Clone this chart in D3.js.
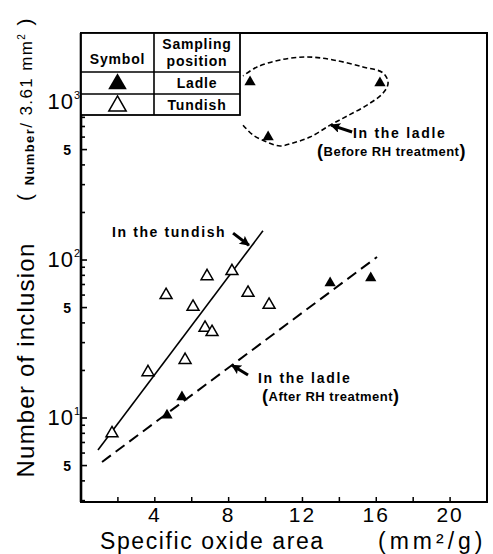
<!DOCTYPE html>
<html>
<head>
<meta charset="utf-8">
<script src="https://cdn.jsdelivr.net/npm/d3@7"></script>
<style>
  body { margin: 0; background: #fff; }
  svg { display: block; }
  text { font-family: "Liberation Sans", Arial, sans-serif; fill: #000; }
  .bold { font-weight: bold; }
</style>
</head>
<body>
<div class="svg_container"></div>
<script>
// chart values
var xTickValues = [2, 4, 6, 8, 10, 12, 14, 16, 18, 20];
var xTickLabels = [4, 8, 12, 16, 20];
var yPowerLabels = [{value: 1000, exp: "3"}, {value: 100, exp: "2"}, {value: 10, exp: "1"}];
var yFiveLabels = [500, 50, 5];

// tundish (open triangles)
var tundishX = [1.68, 3.63, 4.61, 5.64, 6.07, 6.72, 7.10, 6.83, 8.18, 9.05, 10.19];
var tundishY = [8.0, 19.5, 60, 23.3, 50.5, 37.2, 35, 79, 85, 62, 52];

// ladle after RH treatment (filled triangles)
var ladleAfterX = [4.66, 5.47, 13.5, 15.7];
var ladleAfterY = [10.4, 13.6, 71.5, 77];

// ladle before RH treatment (filled triangles)
var ladleBeforeX = [9.16, 16.2, 10.14];
var ladleBeforeY = [1340, 1320, 600];

// fitted lines
var tundishFitX = [0.92, 9.86];
var tundishFitY = [6.27, 153];
var ladleFitX = [1.14, 16.04];
var ladleFitY = [5.27, 104.5];

// dashed loop around the "before RH" points
var loopX = [8.78, 9.32, 10.08, 10.79, 11.49, 12.41, 13.5, 14.42, 15.5, 16.37, 16.64, 16.37, 15.28, 13.66, 12.25, 10.79, 9.54, 8.78];
var loopY = [714, 618, 558, 527, 551, 600, 714, 815, 957, 1140, 1319, 1527, 1667, 1847, 1928, 1847, 1667, 1462];

// set the dimensions and margins of the graph
var margin = {top: 33, right: 6, bottom: 52, left: 81};
var width = 493 - margin.left - margin.right;
var height = 554 - margin.top - margin.bottom;

var svgRoot = d3.select(".svg_container").append("svg")
    .attr("width", 493)
    .attr("height", 554);

// arrow head marker
svgRoot.append("defs").append("marker")
    .attr("id", "head")
    .attr("markerUnits", "userSpaceOnUse")
    .attr("viewBox", "0 0 10 10")
    .attr("refX", 9)
    .attr("refY", 5)
    .attr("markerWidth", 11)
    .attr("markerHeight", 10)
    .attr("orient", "auto")
  .append("path")
    .attr("d", "M0,0 L10,5 L0,10 L2,5 Z")
    .attr("fill", "#000");

var svg = svgRoot.append("g")
    .attr("transform", "translate(" + margin.left + "," + margin.top + ")");

// scales
var xScale = d3.scaleLinear()
  .domain([0, 22])
  .range([0, width]);

var yScale = d3.scaleLog()
  .domain([2.94, 2735])
  .range([height, 0]);

// frame
svg.append("rect")
  .attr("x", 0).attr("y", 0)
  .attr("width", width).attr("height", height)
  .attr("fill", "none")
  .attr("stroke", "#000")
  .attr("stroke-width", 2);

svg.append("line")
  .attr("x1", 0).attr("x2", 0)
  .attr("y1", 0).attr("y2", height)
  .attr("stroke", "#000")
  .attr("stroke-width", 2.6);

// x ticks (pointing inward)
svg.selectAll(".xtick")
  .data(xTickValues)
  .enter().append("line")
    .attr("x1", function(d) { return xScale(d); })
    .attr("x2", function(d) { return xScale(d); })
    .attr("y1", height)
    .attr("y2", height - 5)
    .attr("stroke", "#000")
    .attr("stroke-width", 1.5);

svg.selectAll(".xlabel")
  .data(xTickLabels)
  .enter().append("text")
    .attr("x", function(d) { return xScale(d); })
    .attr("y", height + 20)
    .attr("text-anchor", "middle")
    .attr("font-size", 21)
    .attr("letter-spacing", 2)
    .text(function(d) { return d; });

// y ticks from the log scale
var yTickValues = yScale.ticks().filter(function(d) { return d >= 3; });

svg.selectAll(".ytick")
  .data(yTickValues)
  .enter().append("line")
    .attr("x1", 0)
    .attr("x2", function(d) {
      var m = d / Math.pow(10, Math.floor(Math.log10(d) + 1e-9));
      return (Math.round(m) == 1 || Math.round(m) == 5) ? 6 : 4;
    })
    .attr("y1", function(d) { return yScale(d); })
    .attr("y2", function(d) { return yScale(d); })
    .attr("stroke", "#000")
    .attr("stroke-width", 1.6);

var powerLabels = svg.selectAll(".ypow")
  .data(yPowerLabels)
  .enter().append("text")
    .attr("x", -1)
    .attr("y", function(d) { return yScale(d.value) + 7; })
    .attr("text-anchor", "end")
    .attr("font-size", 22);

powerLabels.append("tspan")
  .attr("letter-spacing", 1)
  .text("10");
powerLabels.append("tspan")
  .attr("font-size", 11)
  .attr("dy", -10)
  .text(function(d) { return d.exp; });

svg.selectAll(".yfive")
  .data(yFiveLabels)
  .enter().append("text")
    .attr("class", "bold")
    .attr("x", -10)
    .attr("y", function(d) { return yScale(d) + 5; })
    .attr("text-anchor", "end")
    .attr("font-size", 14)
    .text("5");

// axis titles
svgRoot.append("text")
  .attr("transform", "translate(34,360) rotate(-90)")
  .attr("text-anchor", "middle")
  .attr("font-size", 24)
  .attr("letter-spacing", 1.2)
  .text("Number of inclusion");

var unitLabel = svgRoot.append("text")
  .attr("transform", "translate(32,109) rotate(-90)")
  .attr("text-anchor", "middle")
  .attr("font-size", 17)
  .attr("letter-spacing", 1.4);
unitLabel.append("tspan").attr("font-size", 21).text("( ");
unitLabel.append("tspan").attr("class", "bold").attr("font-size", 13).attr("dy", 2).text("Number");
unitLabel.append("tspan").attr("dy", -2).text("/ 3.61 mm");
unitLabel.append("tspan").attr("font-size", 10).attr("dy", -7).text("2");
unitLabel.append("tspan").attr("font-size", 21).attr("dy", 7).text(" )");

svgRoot.append("text")
  .attr("x", 100)
  .attr("y", 549)
  .attr("font-size", 23)
  .attr("letter-spacing", 1.6)
  .text("Specific oxide area");

svgRoot.append("text")
  .attr("x", 378)
  .attr("y", 549)
  .attr("font-size", 23)
  .attr("letter-spacing", 4)
  .text("(mm²/g)");

// fitted lines
var line = d3.line()
  .x(function(d) { return xScale(d[0]); })
  .y(function(d) { return yScale(d[1]); });

svg.append("path")
  .datum(d3.zip(tundishFitX, tundishFitY))
  .attr("d", line)
  .attr("fill", "none")
  .attr("stroke", "#000")
  .attr("stroke-width", 1.6);

svg.append("path")
  .datum(d3.zip(ladleFitX, ladleFitY))
  .attr("d", line)
  .attr("fill", "none")
  .attr("stroke", "#000")
  .attr("stroke-width", 2)
  .attr("stroke-dasharray", "11,6");

// loop around the before-RH points
svg.append("path")
  .datum(d3.zip(loopX, loopY))
  .attr("d", line.curve(d3.curveCatmullRom))
  .attr("fill", "none")
  .attr("stroke", "#000")
  .attr("stroke-width", 1.6)
  .attr("stroke-dasharray", "5,3");

// points
var triOpen = d3.symbol().type(d3.symbolTriangle).size(62);
var triFill = d3.symbol().type(d3.symbolTriangle).size(55);

svg.selectAll(".tundish")
  .data(d3.zip(tundishX, tundishY))
  .enter().append("path")
    .attr("d", triOpen)
    .attr("transform", function(d) { return "translate(" + xScale(d[0]) + "," + yScale(d[1]) + ")"; })
    .attr("fill", "#fff")
    .attr("stroke", "#000")
    .attr("stroke-width", 1.5);

svg.selectAll(".ladle")
  .data(d3.zip(ladleAfterX.concat(ladleBeforeX), ladleAfterY.concat(ladleBeforeY)))
  .enter().append("path")
    .attr("d", triFill)
    .attr("transform", function(d) { return "translate(" + xScale(d[0]) + "," + yScale(d[1]) + ")"; })
    .attr("fill", "#000");

// annotations (positions in data units)
function arrow(x1, y1, x2, y2) {
  svg.append("line")
    .attr("x1", xScale(x1)).attr("y1", yScale(y1))
    .attr("x2", xScale(x2)).attr("y2", yScale(y2))
    .attr("stroke", "#000")
    .attr("stroke-width", 3)
    .attr("marker-end", "url(#head)");
}

function note(x, y, txt, size, spacing) {
  svg.append("text")
    .attr("class", "bold")
    .attr("x", xScale(x))
    .attr("y", yScale(y))
    .attr("dy", "0.35em")
    .attr("font-size", size)
    .attr("letter-spacing", spacing)
    .text(txt);
}

function noteParen(x, y, txt) {
  var t = svg.append("text")
    .attr("class", "bold")
    .attr("x", xScale(x))
    .attr("y", yScale(y))
    .attr("dy", "0.38em")
    .attr("font-size", 13)
    .attr("letter-spacing", 0.5);
  t.append("tspan").attr("font-size", 18).text("(");
  t.append("tspan").attr("dy", "-0.1em").text(txt);
  t.append("tspan").attr("font-size", 18).attr("dy", "0.1em").text(")");
}

note(1.68, 150, "In the tundish", 14, 1.6);
arrow(8.24, 148, 9.1, 124);

note(14.74, 637, "In the ladle", 14, 1.7);
noteParen(12.79, 483, "Before RH treatment");
arrow(14.69, 646, 13.55, 715);

note(9.59, 17.9, "In the ladle", 14, 1.7);
noteParen(9.81, 13.6, "After RH treatment");
arrow(9.05, 18.7, 8.18, 21.6);

// legend table in the top-left corner
var table = svg.append("g");
var colX = [0, 73, 159];
var rowY = [0, 39, 61, 82];

table.append("rect")
  .attr("x", 0).attr("y", 0)
  .attr("width", colX[2]).attr("height", rowY[3])
  .attr("fill", "#fff")
  .attr("stroke", "#000")
  .attr("stroke-width", 1.8);

table.append("line")
  .attr("x1", colX[1]).attr("x2", colX[1])
  .attr("y1", 0).attr("y2", rowY[3])
  .attr("stroke", "#000").attr("stroke-width", 1.6);

[rowY[1], rowY[2]].forEach(function(y) {
  table.append("line")
    .attr("x1", 0).attr("x2", colX[2])
    .attr("y1", y).attr("y2", y)
    .attr("stroke", "#000").attr("stroke-width", 1.6);
});

function cell(x, y, txt) {
  table.append("text")
    .attr("class", "bold")
    .attr("x", x).attr("y", y)
    .attr("text-anchor", "middle")
    .attr("dy", "0.35em")
    .attr("font-size", 14)
    .attr("letter-spacing", 0.8)
    .text(txt);
}

cell(colX[1] / 2, 26, "Symbol");
cell((colX[1] + colX[2]) / 2, 11, "Sampling");
cell((colX[1] + colX[2]) / 2, 28, "position");
cell((colX[1] + colX[2]) / 2, 50, "Ladle");
cell((colX[1] + colX[2]) / 2, 72, "Tundish");

table.append("path")
  .attr("d", d3.symbol().type(d3.symbolTriangle).size(150))
  .attr("transform", "translate(" + (colX[1] / 2) + ",51)")
  .attr("fill", "#000");

table.append("path")
  .attr("d", d3.symbol().type(d3.symbolTriangle).size(130))
  .attr("transform", "translate(" + (colX[1] / 2) + ",73)")
  .attr("fill", "#fff")
  .attr("stroke", "#000")
  .attr("stroke-width", 1.5);
</script>
</body>
</html>
